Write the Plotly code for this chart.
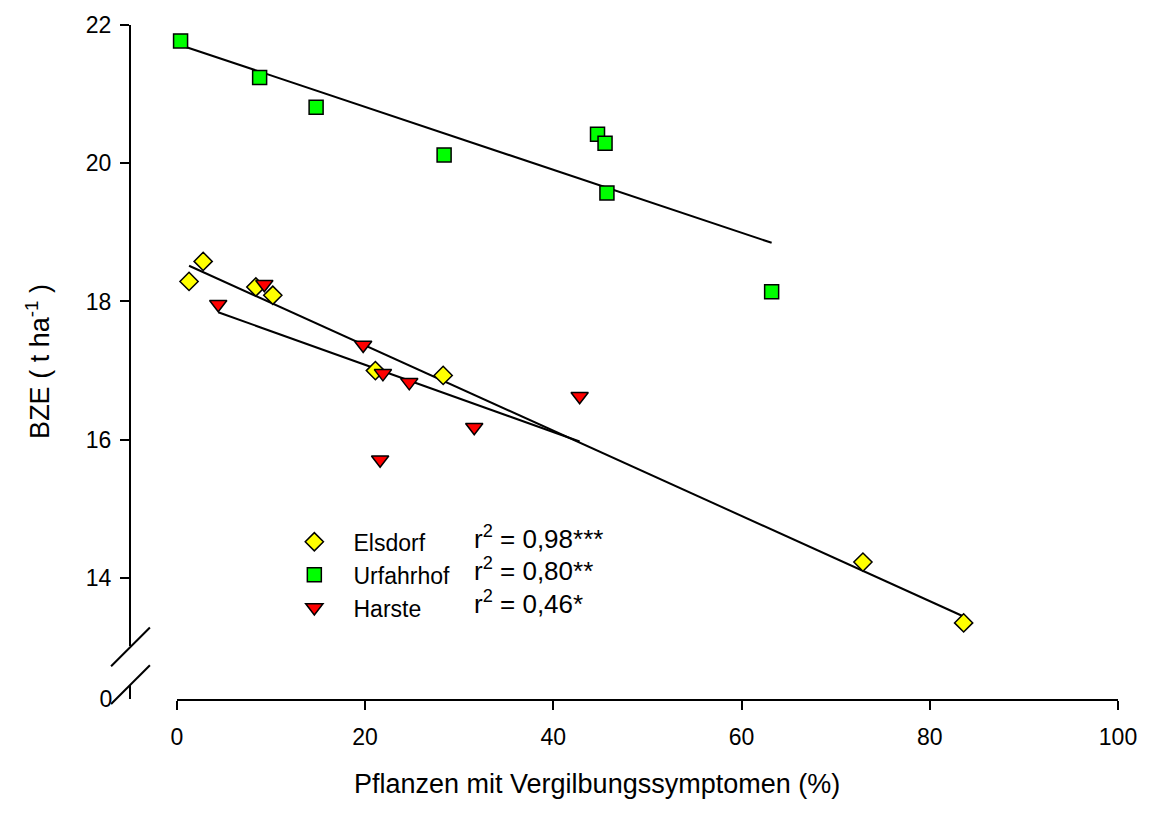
import numpy as np
import plotly.graph_objects as go

# Share of plants with yellowing symptoms (%) and BZE yield (t/ha) per site
elsdorf_x = [1.3, 2.8, 8.4, 10.2, 21.1, 28.3, 72.9, 83.6]
elsdorf_y = [18.29, 18.58, 18.21, 18.09, 17.00, 16.93, 14.23, 13.35]
urfahrhof_x = [0.4, 8.8, 14.8, 28.4, 44.7, 45.5, 45.7, 63.2]
urfahrhof_y = [21.77, 21.24, 20.81, 20.12, 20.42, 20.29, 19.57, 18.14]
harste_x = [4.4, 9.3, 19.8, 21.9, 24.7, 21.6, 31.6, 42.8]
harste_y = [17.96, 18.25, 17.37, 16.96, 16.83, 15.71, 16.18, 16.63]

site_names = ["Elsdorf", "Urfahrhof", "Harste"]
r2_labels = ["r<sup>2</sup> = 0,98***", "r<sup>2</sup> = 0,80**", "r<sup>2</sup> = 0,46*"]
x_ticks = [0, 20, 40, 60, 80, 100]
y_ticks_upper = [14, 16, 18, 20, 22]
y_ticks_lower = [0]

FONT = "Arial, 'Liberation Sans', Helvetica, sans-serif"
W, H = 1149, 814
L, R, T, B = 130, 27, 20, 115
PW, PH = W - L - R, H - T - B


def fx(p):
    """pixel column -> paper x"""
    return (p - L) / PW


def fy(p):
    """pixel row -> paper y"""
    return (H - B - p) / PH


sites = [
    (site_names[0], elsdorf_x, elsdorf_y, "diamond", "#FFFF00", 14),
    (site_names[1], urfahrhof_x, urfahrhof_y, "square", "#00FF00", 14),
    (site_names[2], harste_x, harste_y, "triangle-down", "#FF0000", 15),
]

fig = go.Figure()

# linear regression lines, drawn over the observed x range of each site
for name, xs, ys, *_ in sites:
    slope, icpt = np.polyfit(xs, ys, 1)
    xl = np.array([min(xs), max(xs)])
    fig.add_trace(go.Scatter(
        x=xl, y=slope * xl + icpt, mode="lines",
        line=dict(color="black", width=2), showlegend=False, hoverinfo="skip",
    ))

pad = "\u00a0" * 3
for i, (name, xs, ys, sym, col, size) in enumerate(sites):
    fig.add_trace(go.Scatter(
        x=xs, y=ys, mode="markers", name=pad + name, legendgroup=f"g{i}",
        marker=dict(symbol=sym, color=col, size=size,
                    line=dict(color="black", width=1.5)),
        cliponaxis=False,
    ))

# empty trace so the lower (broken-off) y segment carrying the zero is drawn
fig.add_trace(go.Scatter(x=[], y=[], xaxis="x", yaxis="y2", mode="markers",
                         showlegend=False, hoverinfo="skip"))

axis_common = dict(
    showline=True, linecolor="black", linewidth=2, showgrid=False,
    zeroline=False, ticks="outside", ticklen=9, tickwidth=2, tickcolor="black",
    tickfont=dict(family=FONT, size=23, color="black"),
)

fig.update_layout(
    width=W, height=H,
    margin=dict(l=L, r=R, t=T, b=B, pad=0),
    paper_bgcolor="white", plot_bgcolor="white",
    font=dict(family=FONT, size=22, color="black"),
    xaxis=dict(domain=[fx(177), 1], range=[0, 100], tickvals=x_ticks,
               anchor="y2", ticklabelstandoff=7, **axis_common),
    yaxis=dict(domain=[fy(646), 1], range=[13.01, 22], tickvals=y_ticks_upper,
               anchor="free", position=0, ticklabelstandoff=4, **axis_common),
    yaxis2=dict(domain=[0, fy(685)], range=[0, 1], tickvals=y_ticks_lower,
                anchor="free", position=0, ticklabelstandoff=12,
                **{**axis_common, "ticks": ""}),
    showlegend=True,
    legend=dict(x=fx(295), y=fy(519), xanchor="left", yanchor="top",
                bgcolor="rgba(0,0,0,0)", font=dict(family=FONT, size=23),
                tracegroupgap=0, traceorder="normal"),
)

# axis break marks
for y0, y1 in [(666, 627), (704, 665)]:
    fig.add_shape(type="line", xref="paper", yref="paper",
                  x0=fx(111), y0=fy(y0), x1=fx(150), y1=fy(y1),
                  line=dict(color="black", width=2))

# r² labels
for lab, yp in zip(r2_labels, [536, 569, 602]):
    fig.add_annotation(text=lab, xref="paper", yref="paper", x=fx(473), y=fy(yp),
                       xanchor="left", yanchor="middle", showarrow=False,
                       font=dict(family=FONT, size=26))

# axis titles
fig.add_annotation(text="Pflanzen mit Vergilbungssymptomen (%)", xref="paper", yref="paper",
                   x=fx(599), y=fy(785), xanchor="center", yanchor="middle",
                   showarrow=False, font=dict(family=FONT, size=27))
fig.add_annotation(text="BZE ( t ha<sup>-1</sup> )", xref="paper", yref="paper",
                   x=fx(37), y=fy(359), xanchor="center", yanchor="middle",
                   textangle=-90, showarrow=False, font=dict(family=FONT, size=27))

fig.write_html("out.html")
